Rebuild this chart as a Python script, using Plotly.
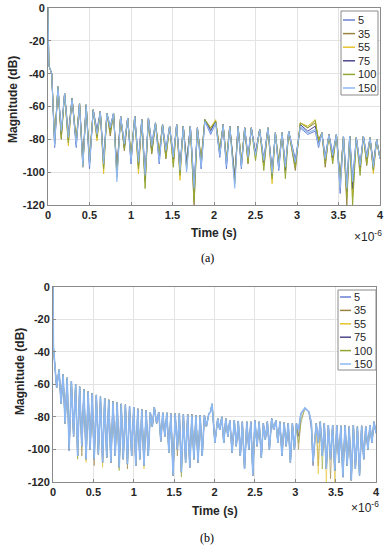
import plotly.graph_objects as go

W, H = 389, 550

series = ["5", "35", "55", "75", "100", "150"]
colors = {"5": "#6a7fd2", "35": "#9a8540", "55": "#e6c32e", "75": "#4e478e",
          "100": "#93a834", "150": "#8db8f2"}
widths_a = {"5": 1.0, "35": 1.0, "55": 1.0, "75": 1.0, "100": 1.0, "150": 1.1}
widths_b = {"5": 0.7, "35": 0.6, "55": 0.6, "75": 0.6, "100": 0.6, "150": 1.6}

x_ticks = [0, 0.5, 1, 1.5, 2, 2.5, 3, 3.5, 4]
y_ticks = [-120, -100, -80, -60, -40, -20, 0]

# ---------------- panel (a) ----------------
a_top_t = [0.0, 0.01, 0.045, 0.12, 0.20, 0.29, 0.38, 0.46, 0.545, 0.63, 0.71, 0.79, 0.875,
           0.96, 1.045, 1.13, 1.21, 1.295, 1.38, 1.465, 1.55, 1.63, 1.715, 1.80, 1.89, 2.02,
           2.11, 2.19, 2.29, 2.37, 2.45, 2.55, 2.65, 2.74, 2.82, 2.90, 3.04, 3.22, 3.30, 3.385,
           3.475, 3.56, 3.635, 3.715, 3.80, 3.88, 3.96, 4.0]
a_top_db = [0, -35, -40, -48, -52, -55, -58, -59, -62, -63, -64, -64, -66,
            -67, -66, -68, -67, -70, -71, -72, -71, -72, -72, -73, -68, -69,
            -71, -72, -72, -73, -73, -74, -73, -76, -76, -75, -70, -69, -76, -77,
            -77, -78, -78, -79, -78, -79, -80, -92]

a_null_t = [0.08, 0.16, 0.245, 0.34, 0.42, 0.50, 0.59, 0.67, 0.75, 0.83,
            0.92, 1.00, 1.09, 1.17, 1.25, 1.34, 1.42, 1.51, 1.59, 1.67,
            1.76, 1.845, 1.96, 2.07, 2.15, 2.25, 2.33, 2.41, 2.50, 2.60,
            2.70, 2.78, 2.86, 2.98, 3.13, 3.26, 3.34, 3.43, 3.52, 3.60,
            3.67, 3.76, 3.84, 3.92]
a_null_db_5 = [-85, -76, -78, -85, -92, -98, -74, -92, -72, -98,
               -82, -95, -92, -100, -82, -95, -86, -90, -96, -94,
               -108, -98, -77, -91, -98, -102, -98, -90, -88, -92,
               -99, -99, -96, -92, -77, -85, -90, -88, -113, -108,
               -104, -95, -90, -94]
a_null_db_35 = [-80, -80, -76, -80, -97, -92, -76, -94, -78, -100,
                -87, -90, -95, -104, -89, -88, -92, -94, -98, -96,
                -120, -92, -74, -86, -92, -104, -94, -95, -90, -95,
                -100, -94, -98, -99, -73, -80, -97, -92, -104, -120,
                -112, -98, -96, -96]
a_null_db_55 = [-82, -78, -84, -82, -94, -94, -81, -101, -75, -102,
                -84, -92, -101, -106, -86, -90, -90, -95, -105, -97,
                -114, -94, -73, -88, -94, -106, -95, -93, -91, -96,
                -107, -96, -100, -96, -72, -82, -94, -93, -108, -114,
                -115, -99, -94, -101]
a_null_db_75 = [-83, -77, -80, -83, -95, -95, -78, -96, -74, -101,
                -85, -93, -96, -105, -87, -92, -88, -92, -100, -95,
                -112, -95, -75, -89, -95, -105, -96, -92, -89, -94,
                -102, -97, -99, -95, -75, -83, -93, -91, -106, -112,
                -110, -97, -92, -98]
a_null_db_100 = [-81, -79, -82, -81, -96, -93, -79, -98, -76, -103,
                 -86, -91, -98, -110, -88, -89, -91, -97, -102, -98,
                 -118, -93, -73, -87, -93, -107, -94, -94, -93, -99,
                 -104, -95, -104, -97, -73, -81, -95, -95, -105, -116,
                 -120, -102, -95, -99]
a_null_db_150 = [-84, -75, -79, -84, -97, -96, -77, -95, -73, -106,
                 -83, -94, -94, -102, -84, -94, -87, -91, -99, -100,
                 -110, -97, -76, -90, -96, -110, -97, -91, -90, -93,
                 -101, -98, -97, -94, -76, -84, -92, -90, -110, -110,
                 -106, -96, -91, -97]
a_null_db = {"5": a_null_db_5, "35": a_null_db_35, "55": a_null_db_55,
             "75": a_null_db_75, "100": a_null_db_100, "150": a_null_db_150}

# series-specific peak levels in the two bumps
a_bump_t = [1.89, 2.02, 3.04, 3.22]
a_bump_db = {"5": [-69, -70, -73, -75], "35": [-68, -69, -70, -70],
             "55": [-68, -68, -70, -68], "75": [-68, -69, -71, -72],
             "100": [-68, -69, -70, -68.5], "150": [-69, -70, -72, -74]}

# ---------------- panel (b) ----------------
b_t = [0.0, 0.005, 0.045, 0.075, 0.10, 0.125, 0.15, 0.175, 0.20, 0.228, 0.255, 0.28, 0.305,
       0.33, 0.357, 0.383, 0.41, 0.435, 0.46, 0.485, 0.51, 0.537, 0.562, 0.588, 0.614, 0.64,
       0.665, 0.69, 0.717, 0.743, 0.77, 0.795, 0.82, 0.845, 0.87, 0.897, 0.922, 0.948, 0.974,
       1.0, 1.025, 1.05, 1.075, 1.1, 1.127, 1.153, 1.18, 1.205, 1.23, 1.255, 1.283, 1.31,
       1.335, 1.36, 1.385, 1.41, 1.435, 1.46, 1.487, 1.513, 1.54, 1.565, 1.59, 1.615, 1.642,
       1.668, 1.694, 1.72, 1.745, 1.77, 1.796, 1.822, 1.848, 1.875, 1.90, 1.93, 1.95, 1.97,
       2.005, 2.04, 2.065, 2.09, 2.115, 2.14, 2.165, 2.19, 2.218, 2.245, 2.27, 2.295, 2.32,
       2.345, 2.372, 2.40, 2.425, 2.45, 2.475, 2.50, 2.527, 2.553, 2.58, 2.605, 2.63, 2.655,
       2.68, 2.708, 2.733, 2.76, 2.785, 2.81, 2.836, 2.862, 2.888, 2.913, 2.94, 2.965, 2.99,
       3.015, 3.04, 3.07, 3.12, 3.17, 3.20, 3.22, 3.26, 3.285, 3.31, 3.335, 3.36, 3.385,
       3.41, 3.437, 3.463, 3.49, 3.515, 3.54, 3.565, 3.59, 3.617, 3.643, 3.668, 3.694,
       3.72, 3.745, 3.77, 3.796, 3.822, 3.848, 3.873, 3.90, 3.925, 3.95, 3.975, 4.0]
b_db = [0, -37, -62, -51, -72, -54, -84, -56, -100, -58, -92, -60, -104,
        -61.5, -98, -63, -106, -64.5, -100, -65.5, -106, -66.5, -103, -67.5, -108, -68.5,
        -105, -69.5, -108, -70.5, -104, -71, -111, -72, -106, -72.5, -109, -73.5, -104,
        -74, -110, -75, -106, -75.5, -110, -76, -104, -77, -86, -74, -84, -77,
        -95, -77.5, -92, -77.5, -102, -78, -116, -78, -100, -78, -114, -78.5, -108,
        -78.5, -111, -78.5, -106, -79, -108, -79, -104, -79, -86, -78, -77, -72,
        -96, -81, -88, -80, -96, -81, -92, -82, -102, -82, -98, -82.5, -104,
        -83, -112, -83, -100, -83, -116, -82, -98, -83, -105, -84, -94, -83,
        -100, -81, -88, -82, -96, -83, -104, -83.5, -98, -84, -108, -84, -100,
        -84, -88, -78, -74.5, -77, -84, -108, -84, -96, -83, -104, -84, -112,
        -85, -106, -85, -113, -85, -108, -85.5, -117, -85, -110, -86, -119,
        -85, -112, -86, -116, -85.5, -106, -86, -100, -85, -96, -83, -90]

# series whose nulls go a little deeper than the common trace
b_over = {
    "5": [(0.20, -101), (3.22, -104)],
    "35": [(0.357, -104), (0.51, -110), (0.922, -112), (1.54, -104), (3.04, -100),
           (3.07, -82), (3.285, -110), (3.437, -118)],
    "55": [(0.41, -108), (0.614, -111), (1.127, -112), (3.285, -115), (3.385, -120),
           (3.49, -120)],
    "75": [(3.04, -92), (3.22, -110), (3.20, -88)],
    "100": [(0.305, -106), (0.82, -113), (1.59, -117), (3.04, -96), (3.07, -84),
            (3.335, -112)],
    "150": [],
}

fig = go.Figure()

for s in series:
    bump = dict(zip(a_bump_t, a_bump_db[s]))
    pts = [(t, bump.get(t, d)) for t, d in zip(a_top_t, a_top_db)]
    pts += list(zip(a_null_t, a_null_db[s]))
    pts.sort()
    fig.add_trace(go.Scatter(x=[p[0] for p in pts], y=[p[1] for p in pts], mode="lines",
                             line=dict(color=colors[s], width=widths_a[s]), name=s,
                             xaxis="x", yaxis="y", showlegend=False))

for s in series:
    ov = {round(t, 4): d for t, d in b_over[s]}
    ys = [ov.get(round(t, 4), d) for t, d in zip(b_t, b_db)]
    fig.add_trace(go.Scatter(x=b_t, y=ys, mode="lines",
                             line=dict(color=colors[s], width=widths_b[s]),
                             name=s, xaxis="x2", yaxis="y2", showlegend=False))


def px(x):
    return x / W


def py(y):
    return 1 - y / H


tickfont = dict(family="Liberation Sans", size=11, color="#262626", weight="bold")
common_x = dict(range=[0, 4], tickvals=x_ticks, ticktext=[f"{v:g}" for v in x_ticks],
                showgrid=True, gridcolor="#e3e3e3", gridwidth=1, zeroline=False,
                showline=True, mirror=True, linecolor="#8a8a8a", linewidth=1,
                ticks="inside", ticklen=3, tickcolor="#8a8a8a", tickfont=tickfont,
                automargin=False)
common_y = dict(range=[-120, 0], tickvals=y_ticks, ticktext=[str(v) for v in y_ticks],
                showgrid=True, gridcolor="#e3e3e3", gridwidth=1, zeroline=False,
                showline=True, mirror=True, linecolor="#8a8a8a", linewidth=1,
                ticks="inside", ticklen=3, tickcolor="#8a8a8a", tickfont=tickfont,
                automargin=False)

fig.update_layout(
    width=W, height=H, autosize=False,
    margin=dict(l=0, r=0, t=0, b=0, pad=0),
    paper_bgcolor="white", plot_bgcolor="white",
    showlegend=False,
    xaxis=dict(domain=[px(48), px(380)], anchor="y", **common_x),
    yaxis=dict(domain=[py(205), py(8)], anchor="x", **common_y),
    xaxis2=dict(domain=[px(53), px(376)], anchor="y2", **common_x),
    yaxis2=dict(domain=[py(482), py(286.7)], anchor="x2", **common_y),
)

title_font = dict(family="Liberation Sans", size=12, color="#262626", weight="bold")
ann = []
# axis titles and captions
for (tx, ty, ytx, yty, xex, xey, cap, capy) in [
        (214, 233, 13, 100, 384, 236, "(a)", 258),
        (215, 510.5, 20, 372, 381, 507, "(b)", 538)]:
    ann.append(dict(text="Time (s)", x=px(tx), y=py(ty), xref="paper", yref="paper",
                    showarrow=False, font=title_font, xanchor="center", yanchor="middle"))
    ann.append(dict(text="Magnitude (dB)", x=px(ytx), y=py(yty), xref="paper", yref="paper",
                    showarrow=False, font=title_font, textangle=-90,
                    xanchor="center", yanchor="middle"))
    ann.append(dict(text="\u00d710<sup>-6</sup>", x=px(xex), y=py(xey), xref="paper",
                    yref="paper", showarrow=False, xanchor="right", yanchor="middle",
                    font=dict(family="Liberation Sans", size=12, color="#262626")))
    ann.append(dict(text=cap, x=px(207), y=py(capy), xref="paper", yref="paper",
                    showarrow=False, xanchor="center", yanchor="middle",
                    font=dict(family="Liberation Serif", size=12, color="#000000")))

# legends (drawn as boxed keys)
shapes = []
for (bx0, bx1, by0, by1, lx0, lx1, row0, step) in [
        (341, 378, 11, 95, 343, 355, 20, 13.6),
        (338, 376, 290, 370, 340, 351, 297, 13.4)]:
    shapes.append(dict(type="rect", xref="paper", yref="paper", x0=px(bx0), x1=px(bx1),
                       y0=py(by1), y1=py(by0), line=dict(color="#8a8a8a", width=1),
                       fillcolor="white", layer="above"))
    for i, s in enumerate(series):
        yy = row0 + step * i
        shapes.append(dict(type="line", xref="paper", yref="paper", x0=px(lx0), x1=px(lx1),
                           y0=py(yy), y1=py(yy), line=dict(color=colors[s], width=1.5),
                           layer="above"))
        ann.append(dict(text=s, x=px(lx1 + 1), y=py(yy), xref="paper", yref="paper",
                        showarrow=False, xanchor="left", yanchor="middle",
                        font=dict(family="Liberation Sans", size=11, color="#262626")))

fig.update_layout(annotations=ann, shapes=shapes)
fig.write_html("out.html", config={"displayModeBar": False, "staticPlot": True},
               post_script="document.body.style.margin='0';"
                           "document.body.style.overflow='hidden';")
